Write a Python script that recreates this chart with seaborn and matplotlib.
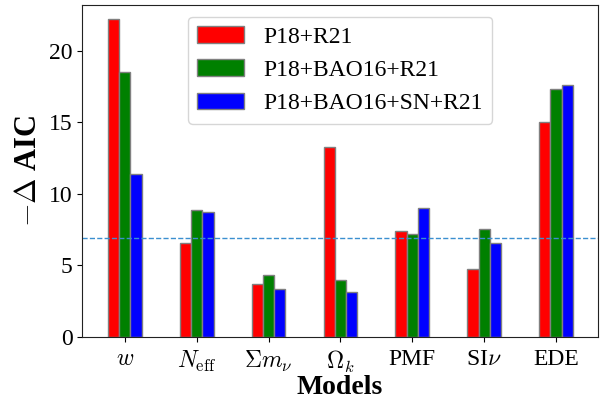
import pandas as pd
import numpy as np
import matplotlib
matplotlib.use("Agg")
import matplotlib.pyplot as plt
import seaborn as sns

# Data
models = [r'$w$', r'$N_{\rm eff}$', r'$\Sigma m_\nu$', r'$\Omega_k$', 'PMF', r'SI$\nu$', 'EDE']
datasets = ['P18+R21', 'P18+BAO16+R21', 'P18+BAO16+SN+R21']
p18_r21 = [22.2, 6.55, 3.67, 13.28, 7.4, 4.77, 15.05]
p18_bao_r21 = [18.5, 8.9, 4.3, 3.95, 7.17, 7.54, 17.3]
p18_bao_sn_r21 = [11.4, 8.72, 3.33, 3.12, 9.02, 6.54, 17.58]
threshold = 6.91

df = pd.DataFrame({
    'model': models * 3,
    'dataset': np.repeat(datasets, len(models)),
    'daic': p18_r21 + p18_bao_r21 + p18_bao_sn_r21,
})

sns.set_style("ticks")
plt.rcParams['font.family'] = ['Liberation Serif', 'DejaVu Serif']
plt.rcParams['mathtext.fontset'] = 'cm'
plt.rcParams['text.color'] = 'black'
plt.rcParams['axes.labelcolor'] = 'black'
plt.rcParams['xtick.color'] = 'black'
plt.rcParams['ytick.color'] = 'black'

fig, ax = plt.subplots(figsize=(6.1, 4.07), dpi=100)
sns.barplot(data=df, x='model', y='daic', hue='dataset', order=models,
            hue_order=datasets, palette=['red', 'green', 'blue'], saturation=1,
            width=0.47, gap=0, edgecolor='grey', linewidth=1, ax=ax)
ax.axhline(threshold, ls='--', lw=1, color='#3b8fd0')

ax.set_xlim(-0.59, 6.58)
ax.set_ylim(0, 23.2)
ax.set_yticks([0, 5, 10, 15, 20])
ax.set_xlabel('Models', fontsize=20, fontweight='bold', labelpad=0)
ax.set_ylabel(r'$-\Delta$ AIC', fontsize=22, fontweight='bold')
ax.tick_params(labelsize=17)
ax.tick_params(axis='x', pad=5)
for s in ax.spines.values():
    s.set_visible(True)
    s.set_color('#222222')
ax.legend(loc='upper center', fontsize=17, title=None, handlelength=2.0)

fig.subplots_adjust(left=0.135, right=0.98, top=0.988, bottom=0.172)
fig.savefig('out.png', dpi=100)
